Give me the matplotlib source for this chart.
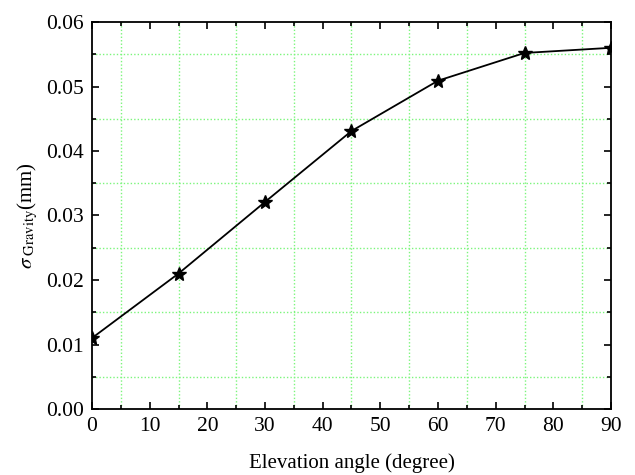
import numpy as np
import matplotlib
matplotlib.use('Agg')
import matplotlib.pyplot as plt
from matplotlib.ticker import MultipleLocator

plt.rcParams['font.family'] = ['Liberation Serif', 'DejaVu Serif']
plt.rcParams['mathtext.fontset'] = 'stix'

# data
angle = [0, 15, 30, 45, 60, 75, 90]
sigma = [0.011, 0.021, 0.0321, 0.0431, 0.0509, 0.0552, 0.0560]

fig = plt.figure(figsize=(6.35, 4.75), dpi=100)
ax = fig.add_axes([92/635, 1-409/475, (611-92)/635, (409-22)/475])

ax.plot(angle, sigma, color='black', linewidth=1.3, marker='*',
        markersize=10, markerfacecolor='black', markeredgecolor='black')

ax.set_xlim(0, 90)
ax.set_ylim(0, 0.06)
ax.xaxis.set_major_locator(MultipleLocator(10))
ax.xaxis.set_minor_locator(MultipleLocator(5))
ax.yaxis.set_major_locator(MultipleLocator(0.01))
ax.yaxis.set_minor_locator(MultipleLocator(0.005))
ax.yaxis.set_major_formatter(matplotlib.ticker.FormatStrFormatter('%.2f'))

ax.tick_params(which='both', direction='in', top=True, right=True,
               labelsize=15.5, width=1.2)
ax.tick_params(which='major', length=5, pad=6)
ax.tick_params(which='minor', length=3)

# grid only on the odd (minor) positions
for v in np.arange(5, 90, 10):
    ax.axvline(v, color='#7cf57c', linestyle=(0, (1, 1.5)), linewidth=1.0, zorder=0)
for v in np.arange(0.005, 0.06, 0.01):
    ax.axhline(v, color='#7cf57c', linestyle=(0, (1, 1.5)), linewidth=1.0, zorder=0)

for s in ax.spines.values():
    s.set_linewidth(1.3)

ax.set_xlabel('Elevation angle (degree)', fontsize=15, labelpad=12)
ax.set_ylabel(r'$\sigma_{\rm\ Gravity}$(mm)', fontsize=15, labelpad=4)

fig.savefig('out.png', dpi=100)
